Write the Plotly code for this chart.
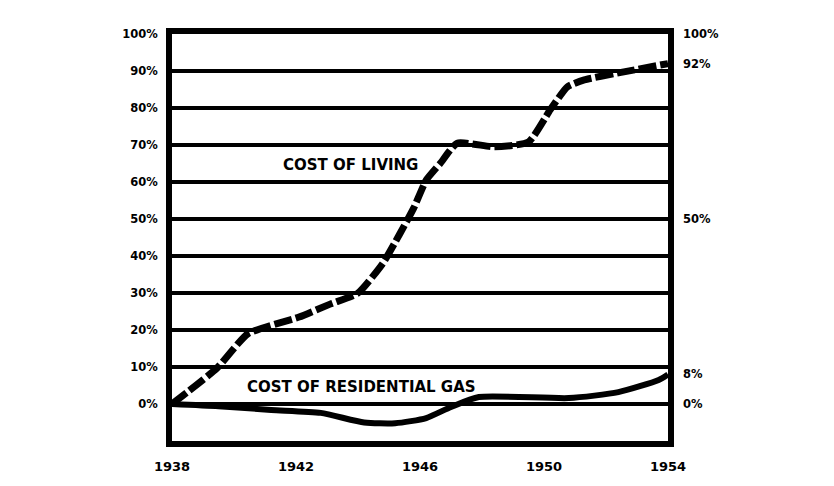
import plotly.graph_objects as go

# Cost of living (percent change since 1938)
col_years = [1938.0, 1939.45, 1940.45, 1942.1, 1943.1, 1944.0, 1944.8, 1945.35, 1945.8,
             1946.2, 1946.65, 1947.2, 1948.4, 1949.5, 1950.2, 1950.75, 1951.3, 1952.35, 1954.0]
col_values = [0, 9.7, 19, 23.5, 27, 30, 38, 46, 53,
              60.5, 65, 70.5, 69.5, 70.8, 79.5, 85.7, 87.6, 89.4, 92]

# Cost of residential gas (percent change since 1938)
gas_years = [1938.0, 1939.5, 1941.2, 1942.8, 1944.2, 1945.2, 1946.2, 1947.0, 1947.9,
             1950.8, 1952.4, 1953.7, 1954.0]
gas_values = [0, -0.6, -1.6, -2.4, -5, -5.2, -3.8, -0.8, 1.9,
              1.6, 3.2, 6.5, 8]

x_ticks = [1938, 1942, 1946, 1950, 1954]
left_ticks = [0, 10, 20, 30, 40, 50, 60, 70, 80, 90, 100]
left_labels = [f"{v}%" for v in left_ticks]
right_ticks = [0, 8, 50, 92, 100]
right_labels = [f"{v}%" for v in right_ticks]

FONT = "DejaVu Sans"
yr = [-10, 100]

fig = go.Figure()
fig.add_trace(go.Scatter(
    x=col_years, y=col_values, mode="lines",
    line=dict(color="black", width=7, dash="18px,4px", shape="spline", smoothing=0.5),
    hoverinfo="skip", showlegend=False))
fig.add_trace(go.Scatter(
    x=gas_years, y=gas_values, mode="lines", yaxis="y2",
    line=dict(color="black", width=6, shape="spline", smoothing=0.6),
    hoverinfo="skip", showlegend=False))

fig.add_annotation(x=1943.75, y=64.6, text="<b>COST OF LIVING</b>", showarrow=False,
                   font=dict(family=FONT, size=15, color="black"))
fig.add_annotation(x=1944.1, y=4.6, text="<b>COST OF RESIDENTIAL GAS</b>", showarrow=False,
                   font=dict(family=FONT, size=15, color="black"))

fig.update_layout(
    width=834, height=486,
    margin=dict(l=172, r=166, t=34, b=45),
    paper_bgcolor="white", plot_bgcolor="white",
    font=dict(family=FONT, color="black"),
    xaxis=dict(range=[1938, 1954], tickvals=x_ticks, ticktext=[f"<b>{t}</b>" for t in x_ticks],
               showgrid=False, zeroline=False, showline=True, linecolor="black", linewidth=6,
               mirror=True, ticks="", ticklabelstandoff=8,
               tickfont=dict(family=FONT, size=13, color="black")),
    yaxis=dict(range=yr, tickvals=left_ticks, ticktext=[f"<b>{t}</b>" for t in left_labels],
               showgrid=True, gridcolor="black", gridwidth=4, zeroline=False,
               showline=True, linecolor="black", linewidth=6, mirror=True, ticks="",
               ticklabelstandoff=6,
               tickfont=dict(family=FONT, size=11.5, color="black")),
    yaxis2=dict(range=yr, overlaying="y", side="right", tickvals=right_ticks,
                ticktext=[f"<b>{t}</b>" for t in right_labels],
                showgrid=False, zeroline=False, showline=False, ticks="",
                ticklabelstandoff=14,
                tickfont=dict(family=FONT, size=11.5, color="black")),
)

fig.write_html("out.html", config={"displayModeBar": False},
               post_script="document.body.style.margin='0';")
